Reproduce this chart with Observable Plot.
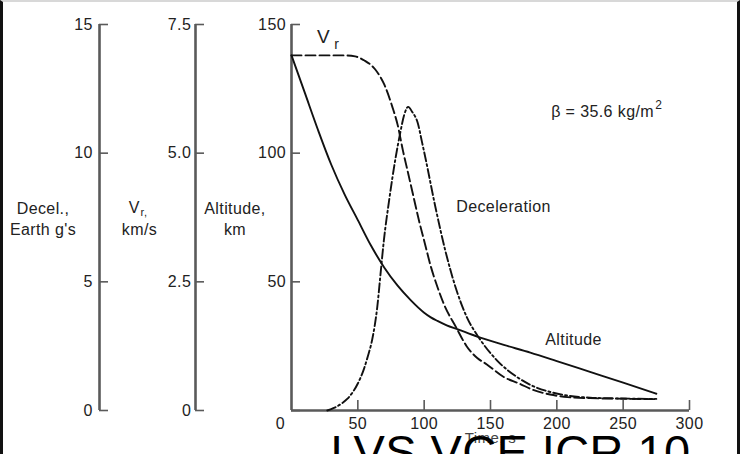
<!DOCTYPE html>
<html>
<head>
<meta charset="utf-8">
<script src="https://cdn.jsdelivr.net/npm/d3@7"></script>
<script src="https://cdn.jsdelivr.net/npm/@observablehq/plot@0.6"></script>
<style>
  body { margin: 0; background: #fff; }
  #wrap { position: relative; width: 740px; height: 454px; overflow: hidden; background: #fff; }
  #frame { position: absolute; left: 0; top: 0; width: 740px; height: 454px; box-sizing: border-box;
           border-left: 3px solid #111; border-right: 3px solid #111; border-top: 2px solid #d8d8d8; pointer-events: none; }
</style>
</head>
<body>
<div id="wrap"><div id="chart"></div><div id="frame"></div></div>
<script>
// ---- data (time in s) ----
const altTime = [0,10,20,30,40,50,60,70,80,90,100,105,110,117,125,140,160,180,200,225,250,275];
const altitudeKm = [138,123.5,109,95.5,84,74,64,55.5,48.5,42.8,38,36.2,34.8,33.1,31.6,28.7,25.5,22.5,19.2,15,10.8,6.5];

const vrTime = [0,20,40,48,55,63,70,76,80,84,88,92,96,100,105,110,115,124,132,140,147,160,172,182,195,208,225,245,275];
const vrKms = [6.9,6.9,6.9,6.88,6.8,6.63,6.33,5.9,5.55,5.05,4.6,4.15,3.7,3.3,2.8,2.4,2.06,1.62,1.25,1.02,0.9,0.65,0.52,0.4,0.31,0.26,0.24,0.23,0.22];

const decelTime = [27,32,38,42,46,50,54.5,57.5,60.8,64.6,67.1,69.6,73.4,78.4,82,85,88,91,95,98.5,101,108.5,116,123.6,132.4,141,155,170,182,195,208,225,245,275];
const decelG = [0,0.1,0.28,0.45,0.7,1.05,1.6,2.1,2.75,4.0,5.3,6.6,8.1,9.8,10.8,11.5,11.8,11.6,11.2,10.4,9.8,7.9,6.2,4.8,3.6,2.85,1.94,1.3,0.95,0.72,0.58,0.5,0.47,0.45];

// ---- axes ----
const timeTicks = [50,100,150,200,250,300];
const altTicks = [0,50,100,150];
const vrTicks = [0,2.5,5.0,7.5];
const decelTicks = [0,5,10,15];
const vrScale = 20;     // km/s -> altitude-axis units
const decelScale = 10;  // g -> altitude-axis units

// ---- text ----
const axisTitles = [
  {x: -187.3, y: 74.8, text: "Decel.,\nEarth g's"},
  {x: -42.6, y: 74.8, text: "Altitude,\nkm"},
  {x: -114.6, y: 70.7, text: "km/s"}
];
const vrTitleMain = [{x: -118.5, y: 78.9, text: "V"}];
const vrTitleSub = [{x: -111.2, y: 77.0, text: "r,"}];
const curveLabels = [
  {x: 159.8, y: 79, text: "Deceleration"},
  {x: 212.6, y: 27.6, text: "Altitude"}
];
const betaLabel = [{x: 195.7, y: 115.9, text: "β = 35.6 kg/m"}];
const betaSup = [{x: 276.8, y: 118.6, text: "2"}];
const vrCurveMain = [{x: 24.1, y: 145.1, text: "V"}];
const vrCurveSub = [{x: 34.2, y: 142.4, text: "r"}];
const xTitle = ["Time, s"];
const stamp = ["LVS VCE ICR 10"];

const altRows = altTime.map((t, i) => ({t, v: altitudeKm[i]}));
const vrRows = vrTime.map((t, i) => ({t, v: vrKms[i]}));
const decelRows = decelTime.map((t, i) => ({t, v: decelG[i]}));

const FONT = "'Liberation Sans', Arial, Helvetica, sans-serif";
const AX = "#5a5a5a";
const TXT = "#222";

const chart = Plot.plot({
  width: 740,
  height: 454,
  marginLeft: 291,
  marginRight: 51,
  marginTop: 24,
  marginBottom: 44,
  x: {domain: [0, 300]},
  y: {domain: [0, 150]},
  style: {fontFamily: FONT, fontSize: "16px", color: TXT, background: "transparent", letterSpacing: "0.4px", overflow: "visible"},
  marks: [
    // axis lines
    Plot.ruleX([0], {y1: 0, y2: 150, stroke: AX, strokeWidth: 2.6}),
    Plot.ruleX([0], {y1: 0, y2: 150, dx: -96, stroke: AX, strokeWidth: 2.6}),
    Plot.ruleX([0], {y1: 0, y2: 150, dx: -192, stroke: AX, strokeWidth: 2.6}),
    Plot.ruleY([0], {x1: 0, x2: 300, stroke: AX, strokeWidth: 2.6}),
    // main altitude axis
    Plot.axisY({ticks: altTicks.filter(d => d > 0), tickSize: -9, tickPadding: 14.5, label: null,
      tickFormat: d => String(d), stroke: AX, strokeWidth: 1.6, fill: TXT, fontSize: 16}),
    Plot.axisY({ticks: [0], tickSize: -9, tickFormat: () => "", label: null, stroke: AX, strokeWidth: 1.6}),
    // V_r axis
    Plot.axisY({ticks: vrTicks.map(d => d * vrScale), dx: -96, tickSize: -9, tickPadding: 13.3, label: null,
      tickFormat: d => d === 0 ? "0" : (d / vrScale).toFixed(1), stroke: AX, strokeWidth: 1.6, fill: TXT, fontSize: 16}),
    // decel axis
    Plot.axisY({ticks: decelTicks.map(d => d * decelScale), dx: -192, tickSize: -9, tickPadding: 15.6, label: null,
      tickFormat: d => String(d / decelScale), stroke: AX, strokeWidth: 1.6, fill: TXT, fontSize: 16}),
    // time axis
    Plot.axisX({ticks: timeTicks, tickSize: -10, tickPadding: 17, label: null,
      tickFormat: d => String(d), stroke: AX, strokeWidth: 1.6, fill: TXT, fontSize: 16}),
    Plot.axisX({ticks: [0], tickSize: 0, tickPadding: 7, dx: -11, label: null,
      tickFormat: d => String(d), fill: TXT, fontSize: 16}),
    // curves
    Plot.line(altRows, {x: "t", y: "v", curve: "monotone-x", stroke: "#111", strokeWidth: 1.9}),
    Plot.line(vrRows, {x: "t", y: d => d.v * vrScale, curve: "monotone-x", stroke: "#111", strokeWidth: 1.9, strokeDasharray: "10,4"}),
    Plot.line(decelRows, {x: "t", y: d => d.v * decelScale, curve: "monotone-x", stroke: "#111", strokeWidth: 1.9, strokeDasharray: "9,3,2,3"}),
    // axis titles
    Plot.text(axisTitles, {x: "x", y: "y", text: "text", fontSize: 16, lineHeight: 1.3, fill: TXT}),
    Plot.text(vrTitleMain, {x: "x", y: "y", text: "text", fontSize: 16, fill: TXT}),
    Plot.text(vrTitleSub, {x: "x", y: "y", text: "text", fontSize: 11, fill: TXT}),
    // curve labels
    Plot.text(curveLabels, {x: "x", y: "y", text: "text", fontSize: 16, fill: TXT}),
    Plot.text(betaLabel, {x: "x", y: "y", text: "text", fontSize: 16, textAnchor: "start", fill: TXT}),
    Plot.text(betaSup, {x: "x", y: "y", text: "text", fontSize: 12, fill: TXT}),
    Plot.text(vrCurveMain, {x: "x", y: "y", text: "text", fontSize: 19, fill: TXT}),
    Plot.text(vrCurveSub, {x: "x", y: "y", text: "text", fontSize: 14, fill: TXT}),
    // x title and stamp
    Plot.text(xTitle, {frameAnchor: "bottom", dy: 32, text: d => d, fontSize: 15, fill: "#444"}),
    Plot.text(stamp, {frameAnchor: "bottom", dx: 20, dy: 57, text: d => d, fontSize: 47, fill: "#000"})
  ]
});
document.getElementById("chart").appendChild(chart);
</script>
</body>
</html>
